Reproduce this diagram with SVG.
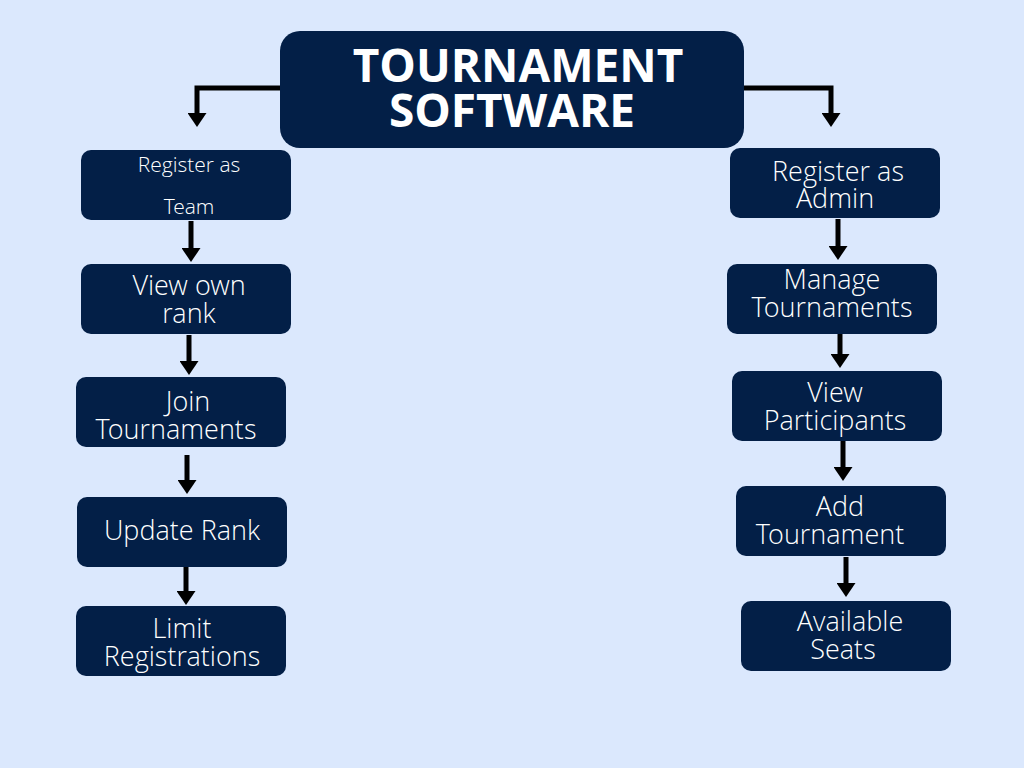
<svg xmlns="http://www.w3.org/2000/svg" width="1024" height="768" viewBox="0 0 1024 768">
  <defs>
    <style>
      .box { fill: #031f47; }
      .lbl { fill: #ffffff; font-family: "Open Sans Light", "Open Sans", "Liberation Sans", sans-serif; font-weight: 300; font-size: 27px; text-anchor: middle; }
      .sm { font-size: 21px; }
      .title { fill: #ffffff; font-family: "Open Sans", "Liberation Sans", sans-serif; font-weight: 700; font-size: 46px; text-anchor: middle; }
      .edge { fill: none; stroke: #000000; stroke-width: 5; }
    </style>
    <!-- arrowhead 14 long x 19 wide; path ends 10px before the tip -->
    <marker id="head" viewBox="0 0 14 19" refX="4" refY="9.5" markerWidth="14" markerHeight="19" markerUnits="userSpaceOnUse" orient="auto">
      <path d="M0,0 L14,9.5 L0,19 Z" fill="#000000"/>
    </marker>
  </defs>
  <rect width="1024" height="768" fill="#dbe8fd"/>

  <!-- connectors -->
  <g id="connectors">
    <path class="edge" d="M282,88 H197 V117" marker-end="url(#head)"/>
    <path class="edge" d="M742,88 H831 V117" marker-end="url(#head)"/>
    <path class="edge" d="M191,221 V252" marker-end="url(#head)"/>
    <path class="edge" d="M189,335 V365" marker-end="url(#head)"/>
    <path class="edge" d="M187,455 V484" marker-end="url(#head)"/>
    <path class="edge" d="M186,566 V595" marker-end="url(#head)"/>
    <path class="edge" d="M838,219 V250" marker-end="url(#head)"/>
    <path class="edge" d="M840,330 V358" marker-end="url(#head)"/>
    <path class="edge" d="M843,441 V471" marker-end="url(#head)"/>
    <path class="edge" d="M846,557 V587" marker-end="url(#head)"/>
  </g>

  <!-- root -->
  <g id="root">
    <rect class="box" x="280" y="31" width="464" height="117" rx="20"/>
    <text class="title" x="518" y="82">TOURNAMENT</text>
    <text class="title" x="512" y="127">SOFTWARE</text>
  </g>

  <!-- team branch -->
  <g id="team-register">
    <rect class="box" x="81" y="150" width="210" height="70" rx="10"/>
    <text class="lbl sm" x="189" y="172">Register as</text>
    <text class="lbl sm" x="189" y="214">Team</text>
  </g>
  <g id="team-rank">
    <rect class="box" x="81" y="264" width="210" height="70" rx="10"/>
    <text class="lbl" x="189" y="295">View own</text>
    <text class="lbl" x="189" y="323">rank</text>
  </g>
  <g id="team-join">
    <rect class="box" x="76" y="377" width="210" height="70" rx="10"/>
    <text class="lbl" x="188" y="411">Join</text>
    <text class="lbl" x="176" y="439">Tournaments</text>
  </g>
  <g id="team-update">
    <rect class="box" x="77" y="497" width="210" height="70" rx="10"/>
    <text class="lbl" x="182" y="540">Update Rank</text>
  </g>
  <g id="team-limit">
    <rect class="box" x="76" y="606" width="210" height="70" rx="10"/>
    <text class="lbl" x="182" y="638">Limit</text>
    <text class="lbl" x="182" y="666">Registrations</text>
  </g>

  <!-- admin branch -->
  <g id="admin-register">
    <rect class="box" x="730" y="148" width="210" height="70" rx="10"/>
    <text class="lbl" x="838" y="181">Register as</text>
    <text class="lbl" x="835" y="208">Admin</text>
  </g>
  <g id="admin-manage">
    <rect class="box" x="727" y="264" width="210" height="70" rx="10"/>
    <text class="lbl" x="832" y="289">Manage</text>
    <text class="lbl" x="832" y="317">Tournaments</text>
  </g>
  <g id="admin-participants">
    <rect class="box" x="732" y="371" width="210" height="70" rx="10"/>
    <text class="lbl" x="835" y="402">View</text>
    <text class="lbl" x="835" y="430">Participants</text>
  </g>
  <g id="admin-add">
    <rect class="box" x="736" y="486" width="210" height="70" rx="10"/>
    <text class="lbl" x="840" y="516">Add</text>
    <text class="lbl" x="830" y="544">Tournament</text>
  </g>
  <g id="admin-seats">
    <rect class="box" x="741" y="601" width="210" height="70" rx="10"/>
    <text class="lbl" x="850" y="631">Available</text>
    <text class="lbl" x="843" y="659">Seats</text>
  </g>
</svg>
